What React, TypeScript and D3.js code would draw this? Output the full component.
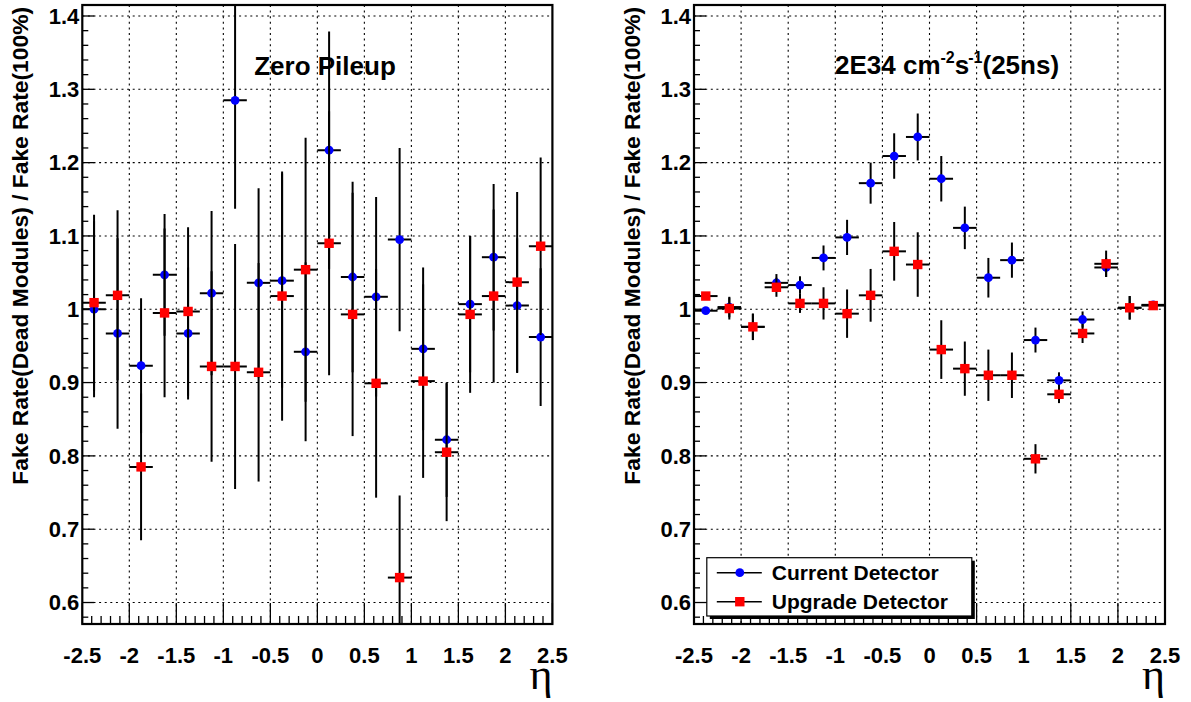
import React from "react";
import * as d3 from "d3";

// ---------- data ----------
const ETA_CENTERS = [
  -2.375, -2.125, -1.875, -1.625, -1.375, -1.125, -0.875, -0.625, -0.375, -0.125,
  0.125, 0.375, 0.625, 0.875, 1.125, 1.375, 1.625, 1.875, 2.125, 2.375,
];
const BIN_HALF_WIDTH = 0.125;

// Zero pileup
const ZERO_CURRENT = [1.0, 0.967, 0.923, 1.047, 0.967, 1.022, 1.285, 1.036, 1.039, 0.942, 1.217, 1.044, 1.017, 1.095, 0.946, 0.822, 1.007, 1.071, 1.005, 0.962];
const ZERO_CURRENT_ERR = [0.12, 0.13, 0.092, 0.083, 0.09, 0.112, 0.148, 0.129, 0.146, 0.122, 0.162, 0.13, 0.136, 0.125, 0.111, 0.078, 0.093, 0.1, 0.092, 0.094];
const ZERO_UPGRADE = [1.009, 1.019, 0.785, 0.995, 0.997, 0.922, 0.922, 0.914, 1.018, 1.054, 1.09, 0.993, 0.899, 0.634, 0.902, 0.805, 0.993, 1.018, 1.037, 1.086];
const ZERO_UPGRADE_ERR = [0.12, 0.116, 0.1, 0.115, 0.115, 0.13, 0.167, 0.149, 0.17, 0.18, 0.18, 0.166, 0.156, 0.112, 0.132, 0.094, 0.107, 0.118, 0.123, 0.121];

// 2E34 (25ns)
const LUMI_CURRENT = [0.998, 1.003, 0.976, 1.036, 1.033, 1.07, 1.098, 1.172, 1.209, 1.235, 1.178, 1.111, 1.043, 1.067, 0.958, 0.903, 0.986, 1.057, 1.002, 1.006];
const LUMI_CURRENT_ERR = [0.004, 0.014, 0.018, 0.012, 0.012, 0.017, 0.024, 0.028, 0.031, 0.032, 0.031, 0.029, 0.027, 0.024, 0.017, 0.011, 0.011, 0.013, 0.016, 0.004];
const LUMI_UPGRADE = [1.018, 1.001, 0.976, 1.03, 1.008, 1.008, 0.994, 1.019, 1.079, 1.061, 0.945, 0.919, 0.91, 0.91, 0.796, 0.884, 0.967, 1.062, 1.002, 1.005];
const LUMI_UPGRADE_ERR = [0.005, 0.015, 0.018, 0.013, 0.013, 0.022, 0.033, 0.036, 0.04, 0.044, 0.04, 0.037, 0.035, 0.031, 0.02, 0.012, 0.013, 0.018, 0.016, 0.004];

const X_TICK_LABELS = ["-2.5", "-2", "-1.5", "-1", "-0.5", "0", "0.5", "1", "1.5", "2", "2.5"];
const Y_TICK_LABELS = ["0.6", "0.7", "0.8", "0.9", "1", "1.1", "1.2", "1.3", "1.4"];
const LEGEND_LABELS = ["Current Detector", "Upgrade Detector"];
const Y_TITLE = "Fake Rate(Dead Modules) / Fake Rate(100%)";

// ---------- style ----------
const FONT = "'Liberation Sans', Arial, Helvetica, sans-serif";
const BLUE = "#0000ff";
const RED = "#ff0000";
const Y_DOMAIN: [number, number] = [0.5707, 1.415];
const FRAME_TOP = 5;
const FRAME_BOTTOM = 624;

type Series = { values: number[]; errs: number[]; color: string; marker: "circle" | "square" };

function Panel({ x0, x1, id, series, title, legend }: { x0: number; x1: number; id: string; series: Series[]; title: React.ReactNode; legend?: boolean }) {
  const x = d3.scaleLinear().domain([-2.5, 2.5]).range([x0, x1]);
  const y = d3.scaleLinear().domain(Y_DOMAIN).range([FRAME_BOTTOM, FRAME_TOP]);
  const xMinor = d3.range(-2.5, 2.5001, 0.1);
  const yMinor = d3.range(0.58, 1.4001, 0.02);
  const xMajor = X_TICK_LABELS.map(Number);
  const yMajor = Y_TICK_LABELS.map(Number);
  const dash = "2,3.6";
  const lx = x0 + 12.8;
  const ly = 557.7;
  const lw = 265;
  const lh = 58.3;
  return (
    <g>
      <defs>
        <clipPath id={id}>
          <rect x={x0} y={FRAME_TOP} width={x1 - x0} height={FRAME_BOTTOM - FRAME_TOP} />
        </clipPath>
      </defs>
      {/* grid */}
      <g stroke="#000" strokeWidth={1.1} strokeDasharray={dash}>
        {xMajor.slice(1, -1).map((v) => (
          <line key={"gx" + v} x1={x(v)} x2={x(v)} y1={FRAME_TOP} y2={FRAME_BOTTOM} />
        ))}
        {yMajor.map((v) => (
          <line key={"gy" + v} x1={x0} x2={x1} y1={y(v)} y2={y(v)} />
        ))}
      </g>
      {/* ticks */}
      <g stroke="#000" strokeWidth={1.3}>
        {xMinor.map((v, i) => {
          const major = i % 5 === 0;
          return <line key={"tx" + i} x1={x(v)} x2={x(v)} y1={FRAME_BOTTOM} y2={FRAME_BOTTOM - (major ? 21 : 8)} />;
        })}
        {yMinor.map((v, i) => {
          const major = Math.abs(v * 10 - Math.round(v * 10)) < 1e-6;
          return <line key={"ty" + i} x1={x0} x2={x0 + (major ? 12 : 6)} y1={y(v)} y2={y(v)} />;
        })}
      </g>
      {/* data */}
      <g clipPath={`url(#${id})`}>
        {series.map((s, si) => (
          <g key={si}>
            <g stroke="#000" strokeWidth={2}>
              {ETA_CENTERS.map((c, i) => (
                <g key={i}>
                  <line x1={x(c)} x2={x(c)} y1={y(s.values[i] - s.errs[i])} y2={y(s.values[i] + s.errs[i])} />
                  <line x1={x(c - BIN_HALF_WIDTH)} x2={x(c + BIN_HALF_WIDTH)} y1={y(s.values[i])} y2={y(s.values[i])} />
                </g>
              ))}
            </g>
            <g fill={s.color}>
              {ETA_CENTERS.map((c, i) =>
                s.marker === "circle" ? (
                  <circle key={i} cx={x(c)} cy={y(s.values[i])} r={4.4} />
                ) : (
                  <rect key={i} x={x(c) - 4.7} y={y(s.values[i]) - 4.7} width={9.4} height={9.4} />
                )
              )}
            </g>
          </g>
        ))}
      </g>
      {/* frame */}
      <rect x={x0} y={FRAME_TOP} width={x1 - x0} height={FRAME_BOTTOM - FRAME_TOP} fill="none" stroke="#000" strokeWidth={2.2} />
      {/* tick labels */}
      <g fontFamily={FONT} fontWeight="bold" fontSize={22} fill="#000">
        {X_TICK_LABELS.map((t) => (
          <text key={"lx" + t} x={x(Number(t))} y={663} textAnchor="middle">
            {t}
          </text>
        ))}
        {Y_TICK_LABELS.map((t) => (
          <text key={"ly" + t} x={x0 - 3} y={y(Number(t)) + 7.8} textAnchor="end">
            {t}
          </text>
        ))}
      </g>
      {/* axis titles */}
      <text
        fontFamily={FONT}
        fontWeight="bold"
        fontSize={22.8}
        textAnchor="end"
        transform={`translate(${x0 - 54.5},7) rotate(-90)`}
      >
        {Y_TITLE}
      </text>
      <text fontFamily="'Liberation Serif', 'Times New Roman', serif" fontSize={44} x={x1} y={689} textAnchor="end">
        η
      </text>
      {title}
      {legend && (
        <g>
          <rect x={lx + 3} y={ly + 3} width={lw} height={lh} fill="#000" />
          <rect x={lx} y={ly} width={lw} height={lh} fill="#fff" stroke="#000" strokeWidth={1.2} />
          {series.map((s, i) => {
            const cy = ly + 15 + i * 29;
            return (
              <g key={"lg" + i}>
                <line x1={lx + 10} x2={lx + 55} y1={cy} y2={cy} stroke="#000" strokeWidth={1.5} />
                {s.marker === "circle" ? (
                  <circle cx={lx + 33} cy={cy} r={4.4} fill={s.color} />
                ) : (
                  <rect x={lx + 33 - 4.7} y={cy - 4.7} width={9.4} height={9.4} fill={s.color} />
                )}
                <text x={lx + 65} y={cy + 7.5} fontFamily={FONT} fontWeight="bold" fontSize={21}>
                  {LEGEND_LABELS[i]}
                </text>
              </g>
            );
          })}
        </g>
      )}
    </g>
  );
}

export default function App() {
  const zeroSeries: Series[] = [
    { values: ZERO_CURRENT, errs: ZERO_CURRENT_ERR, color: BLUE, marker: "circle" },
    { values: ZERO_UPGRADE, errs: ZERO_UPGRADE_ERR, color: RED, marker: "square" },
  ];
  const lumiSeries: Series[] = [
    { values: LUMI_CURRENT, errs: LUMI_CURRENT_ERR, color: BLUE, marker: "circle" },
    { values: LUMI_UPGRADE, errs: LUMI_UPGRADE_ERR, color: RED, marker: "square" },
  ];
  return (
    <svg width={1191} height={702} style={{ position: "absolute", left: 0, top: 0, background: "#fff" }}>
      <rect width={1191} height={702} fill="#fff" />
      <Panel
        x0={82.3}
        x1={552.4}
        id="clipL"
        series={zeroSeries}
        title={
          <text x={325} y={75} textAnchor="middle" fontFamily={FONT} fontWeight="bold" fontSize={26}>
            Zero Pileup
          </text>
        }
      />
      <Panel
        x0={694}
        x1={1165}
        id="clipR"
        series={lumiSeries}
        legend
        title={
          <text x={835} y={74} fontFamily={FONT} fontWeight="bold" fontSize={26}>
            2E34 cm
            <tspan fontSize={16} dy={-11}>-2</tspan>
            <tspan dy={11}>s</tspan>
            <tspan fontSize={16} dy={-11} dx={-1}>-1</tspan>
            <tspan dy={11}>(25ns)</tspan>
          </text>
        }
      />
    </svg>
  );
}
